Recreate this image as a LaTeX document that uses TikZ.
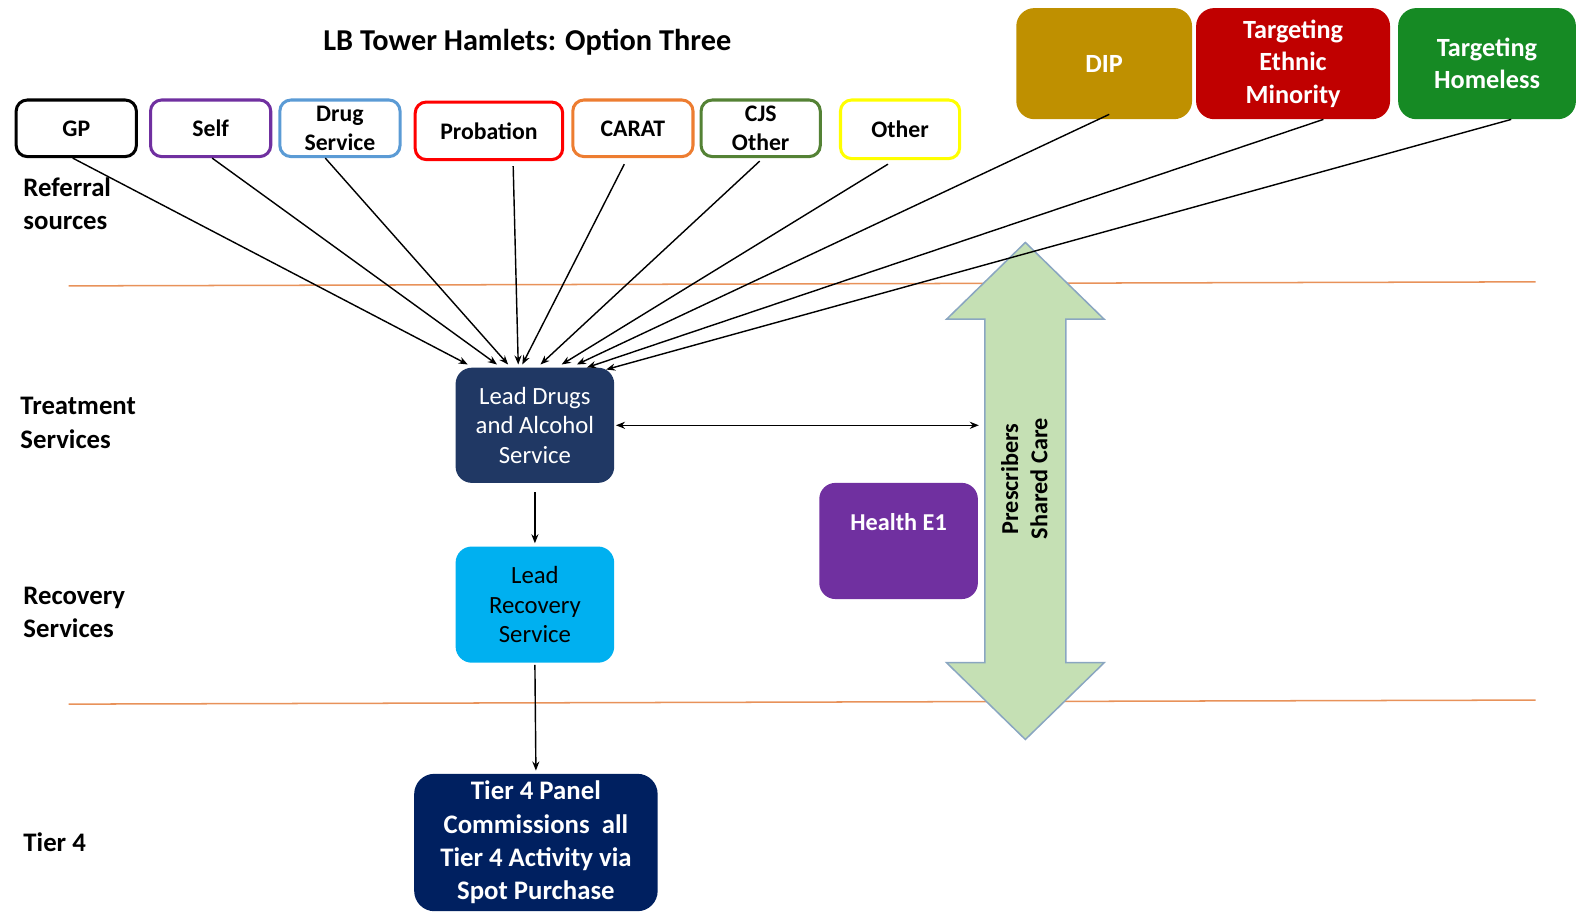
\documentclass[tikz,border=0pt]{standalone}
\usepackage{fontspec}
\setmainfont{Carlito}
\usetikzlibrary{arrows.meta}
\definecolor{cpurple}{HTML}{7030A0}
\definecolor{cblue}{HTML}{5B9BD5}
\definecolor{cred}{HTML}{FF0000}
\definecolor{corange}{HTML}{ED7D31}
\definecolor{cgreen}{HTML}{548235}
\definecolor{cyellow}{HTML}{FFFF00}
\definecolor{cgold}{HTML}{BF9000}
\definecolor{cdred}{HTML}{C00000}
\definecolor{cdgreen}{HTML}{168A24}
\definecolor{cnavy}{HTML}{203864}
\definecolor{ccyan}{HTML}{00B0F0}
\definecolor{cdnavy}{HTML}{002060}
\definecolor{carrowfill}{HTML}{C5E0B4}
\definecolor{carrowline}{HTML}{8AA6C1}
\definecolor{cline}{HTML}{E8925A}
\tikzset{
  srcbox/.style={draw, rounded corners=11pt, line width=3pt, minimum width=119pt, minimum height=56pt, align=center, inner sep=0pt, font=\bfseries\fontsize{23.5}{29}\selectfont},
  topfill/.style={rounded corners=18pt, minimum height=110pt, align=center, inner sep=0pt, text=white, font=\bfseries\fontsize{26}{32}\selectfont},
  svcbox/.style={rounded corners=16pt, minimum width=157pt, minimum height=115pt, align=center, inner sep=0pt, font=\fontsize{24.5}{29}\selectfont},
  rowlabel/.style={anchor=west, align=left, inner sep=0pt, font=\bfseries\fontsize{26.5}{33}\selectfont},
  conn/.style={line width=1.4pt, -{Stealth[length=9pt,width=7pt]}},
  band/.style={cline, line width=1.5pt}
}
\begin{document}
\begin{tikzpicture}[x=1pt,y=-1pt]
\useasboundingbox (0,0) rectangle (1568,913);
% band lines
\draw[band] (68,283) -- (1520,279);
\draw[band] (68,697) -- (1520,693);
% big double arrow
\filldraw[fill=carrowfill, draw=carrowline, line width=1.5pt]
  (1015,240) -- (1093,316) -- (1055,316) -- (1055,656) -- (1093,656) -- (1015,732)
  -- (937,656) -- (975,656) -- (975,316) -- (937,316) -- cycle;
\node[rotate=90, align=center, inner sep=0pt, font=\bfseries\fontsize{24}{29}\selectfont] (psc) at (1014,474) {Prescribers\\Shared Care};
\coordinate (pscL) at (969,421);
% title
\node[font=\bfseries\fontsize{30}{36}\selectfont, inner sep=0pt] (title) at (522,42) {LB Tower Hamlets: Option Three};
% row labels
\node[rowlabel] (lref) at (23,201.5) {Referral\\sources};
\node[rowlabel] (ltreat) at (20,418.5) {Treatment\\Services};
\node[rowlabel] (lrec) at (23,606) {Recovery\\Services};
\node[rowlabel] (ltier) at (23,834) {Tier 4};
% source boxes
\node[srcbox, draw=black] (gp) at (75.5,127) {GP};
\node[srcbox, draw=cpurple] (self) at (208.5,127) {Self};
\node[srcbox, draw=cblue] (drug) at (336.5,127) {Drug\\Service};
\node[srcbox, draw=cred, minimum width=146pt, minimum height=57pt] (prob) at (484,129.5) {Probation};
\node[srcbox, draw=corange] (carat) at (626.5,127) {CARAT};
\node[srcbox, draw=cgreen, minimum width=118pt] (cjs) at (753,127) {CJS\\Other};
\node[srcbox, draw=cyellow, minimum width=118pt, minimum height=58pt] (other) at (891,128) {Other};
% filled top boxes
\node[topfill, fill=cgold, minimum width=174pt] (dip) at (1093,63) {DIP};
\node[topfill, fill=cdred, minimum width=192pt] (ethnic) at (1280,63) {Targeting\\Ethnic\\Minority};
\node[topfill, fill=cdgreen, minimum width=176pt] (homeless) at (1472,63) {Targeting\\Homeless};
% service boxes
\node[svcbox, fill=cnavy, text=white, minimum height=114pt] (lead) at (529.5,421) {Lead Drugs\\and Alcohol\\Service};
\node[svcbox, fill=ccyan, text=black] (recov) at (529.5,598.5) {Lead\\Recovery\\Service};
\node[svcbox, fill=cpurple, text=white, font=\bfseries\fontsize{24}{29}\selectfont] (health) at (889.5,535.5) {Health E1\\\strut};
\node[svcbox, fill=cdnavy, text=white, rounded corners=20pt, minimum width=241pt, minimum height=136pt, font=\bfseries\fontsize{26.5}{33}\selectfont] (tier) at (530.5,834) {Tier 4 Panel\\Commissions\ \ all\\Tier 4 Activity via\\Spot Purchase};
% connectors into lead
\draw[conn] ([xshift=-3.5pt]gp.south) -- ([xshift=-66.5pt,yshift=3pt]lead.north);
\draw[conn] ([xshift=1.5pt]self.south) -- ([xshift=-37.5pt,yshift=3pt]lead.north);
\draw[conn] ([xshift=-14.5pt]drug.south) -- ([xshift=-26.5pt,yshift=3pt]lead.north);
\draw[conn] ([xshift=24pt,yshift=-5pt]prob.south) -- ([xshift=-16.5pt,yshift=3pt]lead.north);
\draw[conn] ([xshift=-8.5pt,yshift=-6pt]carat.south) -- ([xshift=-12.5pt,yshift=3pt]lead.north);
\draw[conn] ([xshift=-1pt,yshift=-3pt]cjs.south) -- ([xshift=5.5pt,yshift=3pt]lead.north);
\draw[conn] ([xshift=-12pt,yshift=-4pt]other.south) -- ([xshift=26.5pt,yshift=3pt]lead.north);
\draw[conn] ([xshift=5pt,yshift=5pt]dip.south) -- ([xshift=41.5pt,yshift=3pt]lead.north);
\draw[conn] ([xshift=30pt]ethnic.south) -- ([xshift=51.5pt]lead.north);
\draw[conn] ([xshift=24pt]homeless.south) -- ([xshift=70.5pt,yshift=-2pt]lead.north);
% other connectors
\draw[conn, {Stealth[length=9pt,width=7pt]}-{Stealth[length=9pt,width=7pt]}] ([xshift=1.5pt]lead.east) -- (pscL);
\draw[conn] ([yshift=-9pt]lead.south) -- ([yshift=3pt]recov.north);
\draw[conn] ([yshift=-2pt]recov.south) -- ([yshift=3pt]tier.north);
\end{tikzpicture}
\end{document}
